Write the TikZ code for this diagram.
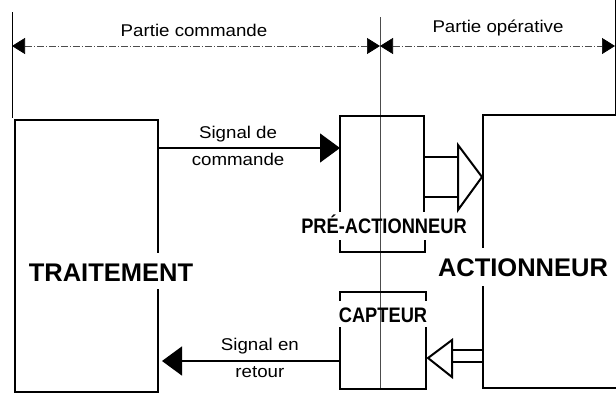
\documentclass[tikz,border=0pt]{standalone}
\usepackage{fontspec}
\setmainfont{Liberation Sans}
\newfontfamily\condfont[FakeStretch=0.87]{Liberation Sans}
\newfontfamily\widefont[FakeStretch=1.1]{Liberation Sans}
\usepackage{tikz}
\usetikzlibrary{arrows.meta,calc,positioning}

\begin{document}
\begin{tikzpicture}[x=1pt, y=-1pt,
	bloc/.style={line width=2pt, line cap=rect},
	cote/.style={line width=0.7pt, gray!60!black, dash pattern=on 7pt off 2pt on 1pt off 2pt,
		{Triangle[length=13pt,width=16pt,black]}-{Triangle[length=13pt,width=16pt,black]}},
	signal/.style={line width=1.5pt, -{Triangle[length=20pt,width=29pt]}},
	creux/.style={line width=2pt, fill=white, line join=miter},
	petit/.style={font=\widefont\fontsize{17}{19}\selectfont, inner sep=0pt},
	grand/.style={font=\bfseries\fontsize{25.5}{28}\selectfont, inner sep=0pt},
	moyen/.style={font=\condfont\bfseries\fontsize{21}{23}\selectfont, inner sep=0pt}]
			\useasboundingbox (0,0) rectangle (616,394);
			% limites des deux parties
			\coordinate (G) at (12,46);
			\coordinate (M) at (380,46);
			\coordinate (D) at (615,46);
			\draw[line width=0.8pt] (12,12) -- (12,118);
			\draw[line width=0.6pt, gray!60!black] (380,17) -- (380,389);
			\draw[line width=0.8pt] (615,0) -- (615,115);
			\draw[cote] (G) -- (M);
			\draw[cote] (M) -- (D);
			\node[petit] (cde) at (194,30) {Partie commande};
			\node[petit] (ope) at (498,28) {Partie opérative};
			% blocs
			\draw[bloc] (158,252) -- (158,120) -- (15,120) -- (15,392) -- (158,392) -- (158,290);
			\node[grand] (trait) at (111,273) {TRAITEMENT};
			\draw[bloc] (340,211) -- (340,116) -- (424,116) -- (424,211);
			\draw[bloc] (340,241) -- (340,252) -- (425,252) -- (425,241);
			\node[moyen] (pre) at (384,224) {PRÉ-ACTIONNEUR};
			\draw[bloc] (340,300) -- (340,292) -- (426,292) -- (426,300);
			\draw[bloc] (340,328) -- (340,389) -- (426,389) -- (426,328);
			\node[moyen] (capt) at (383,315) {CAPTEUR};
			\draw[bloc] (483,247) -- (483,115) -- (630,115);
			\draw[bloc] (483,287) -- (483,388) -- (630,388);
			\node[grand] (act) at (523,268) {ACTIONNEUR};
			% signaux
			\coordinate (S1) at (158,148);
			\coordinate (E1) at (340,148);
			\coordinate (S2) at (340,361);
			\coordinate (E2) at (162,361);
			\draw[signal] (S1) -- (E1);
			\node[petit, above=6pt of $(S1)!0.44!(E1)$] (sd) {Signal de};
			\node[petit, below=5pt of $(S1)!0.44!(E1)$] (sc) {commande};
			\draw[signal] (S2) -- (E2);
			\node[petit, above=7pt of $(S2)!0.45!(E2)$] (se) {Signal en};
			\node[petit, below=5pt of $(S2)!0.45!(E2)$] (sr) {retour};
			% fleches de puissance et de mesure
			\draw[creux] (424,157) -- (458,157) (424,197) -- (458,197);
			\draw[creux] (458,145) -- (482,177) -- (458,210) -- cycle;
			\draw[creux] (483,350) -- (452,350) (483,362) -- (452,362);
			\draw[creux] (452,340) -- (428,358) -- (452,377) -- cycle;
		\end{tikzpicture}
\end{document}
